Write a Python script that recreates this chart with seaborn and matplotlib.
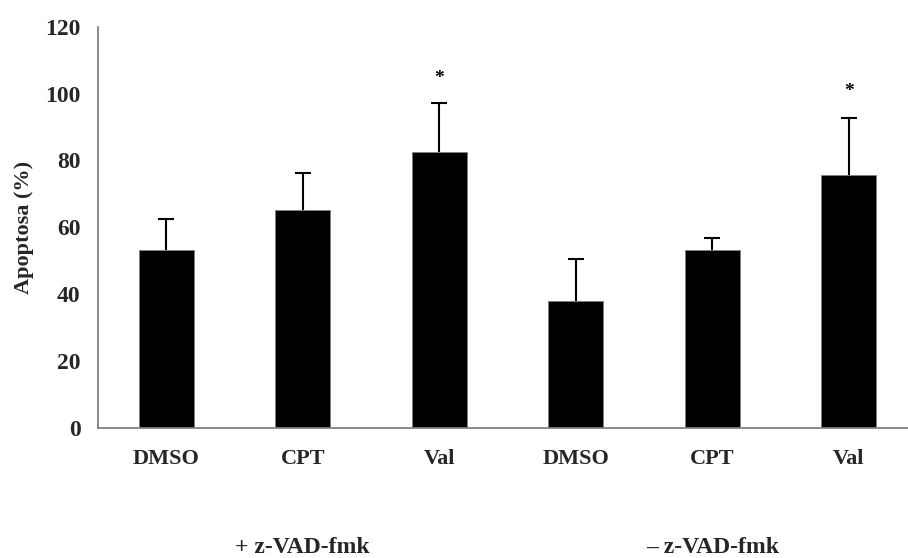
import matplotlib
matplotlib.use("Agg")
import matplotlib.pyplot as plt
import seaborn as sns
import pandas as pd
from matplotlib.ticker import FixedLocator

# ---- data ----
categories = ["DMSO", "CPT", "Val", "DMSO", "CPT", "Val"]
groups = ["+ z-VAD-fmk", "+ z-VAD-fmk", "+ z-VAD-fmk",
          "\u2013 z-VAD-fmk", "\u2013 z-VAD-fmk", "\u2013 z-VAD-fmk"]
apoptosis = [53.3, 65.1, 82.4, 38.0, 53.3, 75.7]
error_upper = [9.2, 11.1, 14.7, 12.6, 3.5, 17.1]
significant = [False, False, True, False, False, True]
star_height = [None, None, 104.6, None, None, 100.6]
y_ticks = [0, 20, 40, 60, 80, 100, 120]
group_labels = ["+ z-VAD-fmk", "\u2013 z-VAD-fmk"]

sns.set_style("white")
plt.rcParams["font.family"] = ["Liberation Serif", "DejaVu Serif"]
plt.rcParams["font.weight"] = "bold"

df = pd.DataFrame({
    "idx": list(range(len(categories))),
    "category": categories,
    "group": groups,
    "value": apoptosis,
    "err": error_upper,
})

fig = plt.figure(figsize=(9.08, 5.58), dpi=100)
ax = fig.add_axes([98 / 908, 1 - 428 / 558, 819 / 908, (428 - 26.7) / 558])

sns.barplot(data=df, x="idx", y="value", color="black", width=0.4,
            edgecolor="#7f7f7f", linewidth=0.6, errorbar=None,
            saturation=1, ax=ax)

pos = df["idx"].to_numpy()
_, caplines, _ = ax.errorbar(pos, df["value"], yerr=[[0] * len(pos), df["err"]],
                             fmt="none", ecolor="black", elinewidth=1.5,
                             capsize=5.5, capthick=1.5, zorder=3)
# only the upper cap is drawn in the reference
if len(caplines) == 2:
    caplines[0].set_visible(False)

for p, s, h in zip(pos, significant, star_height):
    if s:
        ax.text(p, h, "*", ha="center", va="center", fontsize=14,
                fontweight="bold", color="black")

ax.set_xlim(-0.5, len(categories) - 0.5)
ax.set_ylim(0, 120)
ax.set_yticks(y_ticks)
ax.set_yticklabels([str(t) for t in y_ticks], fontsize=17, fontweight="bold")

# boundary ticks (major) and category labels (minor)
ax.xaxis.set_major_locator(FixedLocator([i - 0.5 for i in range(len(categories))]))
ax.set_xticklabels([""] * len(categories))
ax.set_xticks(pos, minor=True)
ax.set_xticklabels(categories, minor=True, fontsize=16, fontweight="bold")
ax.tick_params(axis="x", which="major", direction="out", length=5,
               width=1, color="#808080")
ax.tick_params(axis="x", which="minor", length=0, pad=15)
ax.tick_params(axis="y", direction="out", length=5.5, width=1,
               color="#808080", pad=7)

for side in ["top", "right"]:
    ax.spines[side].set_visible(False)
for side in ["left", "bottom"]:
    ax.spines[side].set_color("#808080")
    ax.spines[side].set_linewidth(1.3)

ax.set_xlabel("")
ax.set_ylabel("Apoptosa (%)", fontsize=16, fontweight="bold", labelpad=8)

# group labels below
n_per_group = 3
for gi, lab in enumerate(group_labels):
    center = (gi * n_per_group + (gi + 1) * n_per_group - 1) / 2
    xf = ax.transData.transform((center, 0))[0]
    xfig = fig.transFigure.inverted().transform((xf, 0))[0]
    fig.text(xfig, 1 - 553 / 558, lab, ha="center", va="baseline",
             fontsize=17, fontweight="bold")

fig.savefig("out.png", dpi=100)
